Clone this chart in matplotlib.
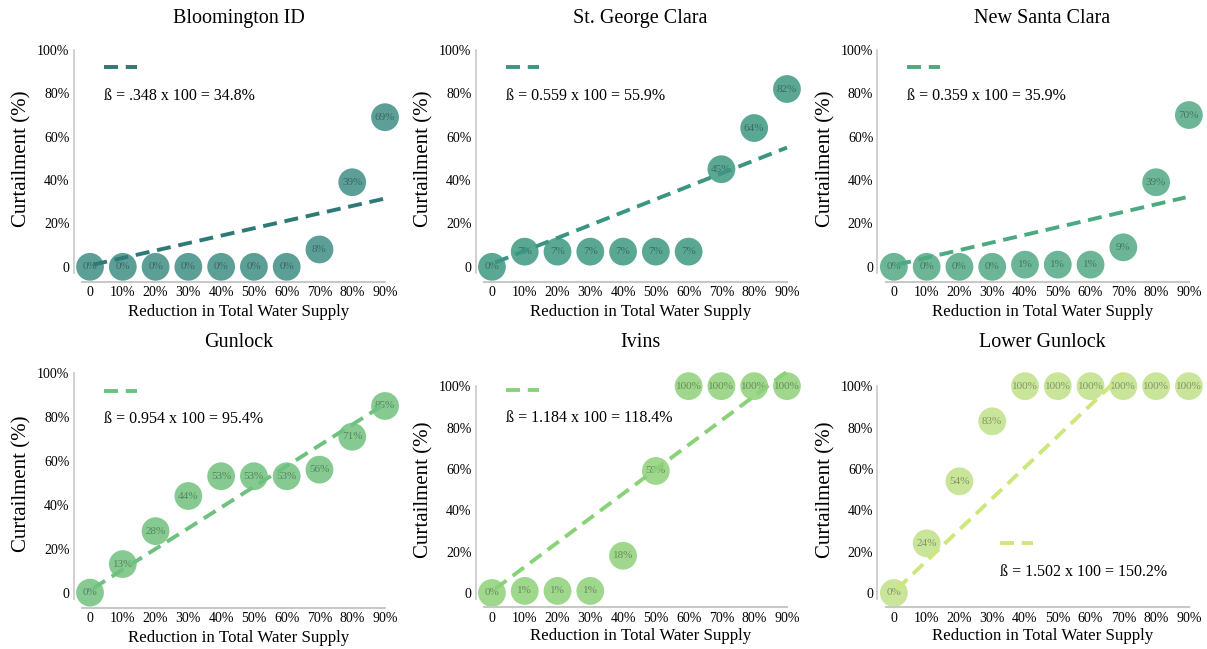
import matplotlib.pyplot as plt

plt.rcParams["font.family"] = ["Liberation Serif", "DejaVu Serif"]

# reduction steps 0..90% (plotted as category positions 0..9)
x_labels = ["0", "10%", "20%", "30%", "40%", "50%", "60%", "70%", "80%", "90%"]
y_ticks = [0, 20, 40, 60, 80, 100]
y_labels = ["0", "20%", "40%", "60%", "80%", "100%"]

titles = ["Bloomington ID", "St. George Clara", "New Santa Clara",
          "Gunlock", "Ivins", "Lower Gunlock"]

bloomington = [0, 0, 0, 0, 0, 0, 0, 8, 39, 69]
st_george = [0, 7, 7, 7, 7, 7, 7, 45, 64, 82]
new_santa_clara = [0, 0, 0, 0, 1, 1, 1, 9, 39, 70]
gunlock = [0, 13, 28, 44, 53, 53, 53, 56, 71, 85]
ivins = [0, 1, 1, 1, 18, 59, 100, 100, 100, 100]
lower_gunlock = [0, 24, 54, 83, 100, 100, 100, 100, 100, 100]
series = [bloomington, st_george, new_santa_clara, gunlock, ivins, lower_gunlock]

beta_text = ["ß = .348 x 100 = 34.8%", "ß = 0.559 x 100 = 55.9%",
             "ß = 0.359 x 100 = 35.9%", "ß = 0.954 x 100 = 95.4%",
             "ß = 1.184 x 100 = 118.4%", "ß = 1.502 x 100 = 150.2%"]

# trend line endpoints (x position, curtailment %)
trend_x = [(0.1, 9.0), (0.1, 9.0), (0.1, 8.9), (0.1, 8.9), (0.1, 9.0), (0.1, 7.0)]
trend_y = [(1, 31.5), (2, 55), (1, 32), (2, 85), (2, 107), (2, 106)]

circle_colors = ["#5c9f97", "#5aa894", "#6cb697", "#86ca92", "#9fd78c", "#c9e59a"]
line_colors = ["#2f7a76", "#3a9582", "#4caa80", "#6cc27e", "#8ad277", "#cde77c"]

# legend sample position: x start, dash y, text y
legend_pos = [(0.43, 92, 79), (0.43, 92, 79), (0.40, 92, 79),
              (0.43, 92, 79), (0.43, 98, 84.5), (3.23, 24, 10)]

# axes boxes in figure fraction [left, bottom, width, height]
col_left = [0.061, 0.394, 0.727]
boxes = [
    [col_left[0], 0.5655, 0.258, 0.3575],
    [col_left[1], 0.5655, 0.258, 0.3575],
    [col_left[2], 0.5655, 0.258, 0.3575],
    [col_left[0], 0.0632, 0.258, 0.362],
    [col_left[1], 0.064, 0.258, 0.341],
    [col_left[2], 0.064, 0.258, 0.341],
]
title_y = [0.972, 0.972, 0.972, 0.4715, 0.4715, 0.4715]

fig = plt.figure(figsize=(12.07, 6.49), dpi=100)
xs = list(range(len(x_labels)))

for i in range(6):
    ax = fig.add_axes(boxes[i])
    vals = series[i]

    ax.scatter(xs, vals, s=400, color=circle_colors[i], edgecolors="none",
               zorder=2, clip_on=False)
    for x, v in zip(xs, vals):
        ax.text(x, v, f"{v}%", ha="center", va="center", fontsize=8,
                color="black", alpha=0.35, zorder=3)

    ax.plot(trend_x[i], trend_y[i], color=line_colors[i], lw=2.8,
            linestyle=(0, (3.6, 2.0)), zorder=4, clip_on=False,
            dash_capstyle="butt")

    lx, ly_dash, ly_text = legend_pos[i]
    ax.plot([lx, lx + 1.0], [ly_dash, ly_dash], color=line_colors[i], lw=2.8,
            linestyle=(0, (3.6, 2.0)), dash_capstyle="butt", clip_on=False)
    ax.text(lx, ly_text, beta_text[i], fontsize=11.5, ha="left", va="center")

    ax.set_xlim(-0.5, 9.0)
    ax.set_ylim(-7, 100)
    ax.set_xticks(xs)
    ax.set_xticklabels(x_labels, fontsize=10)
    ax.set_yticks(y_ticks)
    ax.set_yticklabels(y_labels, fontsize=10)
    ax.tick_params(length=0, pad=3)

    for side in ["top", "right"]:
        ax.spines[side].set_visible(False)
    ax.spines["left"].set_bounds(-3, 100)
    ax.spines["left"].set_color("#c8c8c8")
    ax.spines["left"].set_linewidth(1.2)
    ax.spines["bottom"].set_bounds(-0.25, 9.0)
    ax.spines["bottom"].set_color("#c8c8c8")
    ax.spines["bottom"].set_linewidth(1.5)

    left, bottom, width, height = boxes[i]
    fig.text(left + 0.53 * width, title_y[i], titles[i], fontsize=14.5,
             ha="center", va="center")
    ax.set_xlabel("Reduction in Total Water Supply", fontsize=12.2)
    ax.xaxis.set_label_coords(0.53, -0.095)
    ax.set_ylabel("Curtailment (%)", fontsize=15)
    ax.yaxis.set_label_coords(-0.135, 0.53)

fig.savefig("out.png", dpi=100)
